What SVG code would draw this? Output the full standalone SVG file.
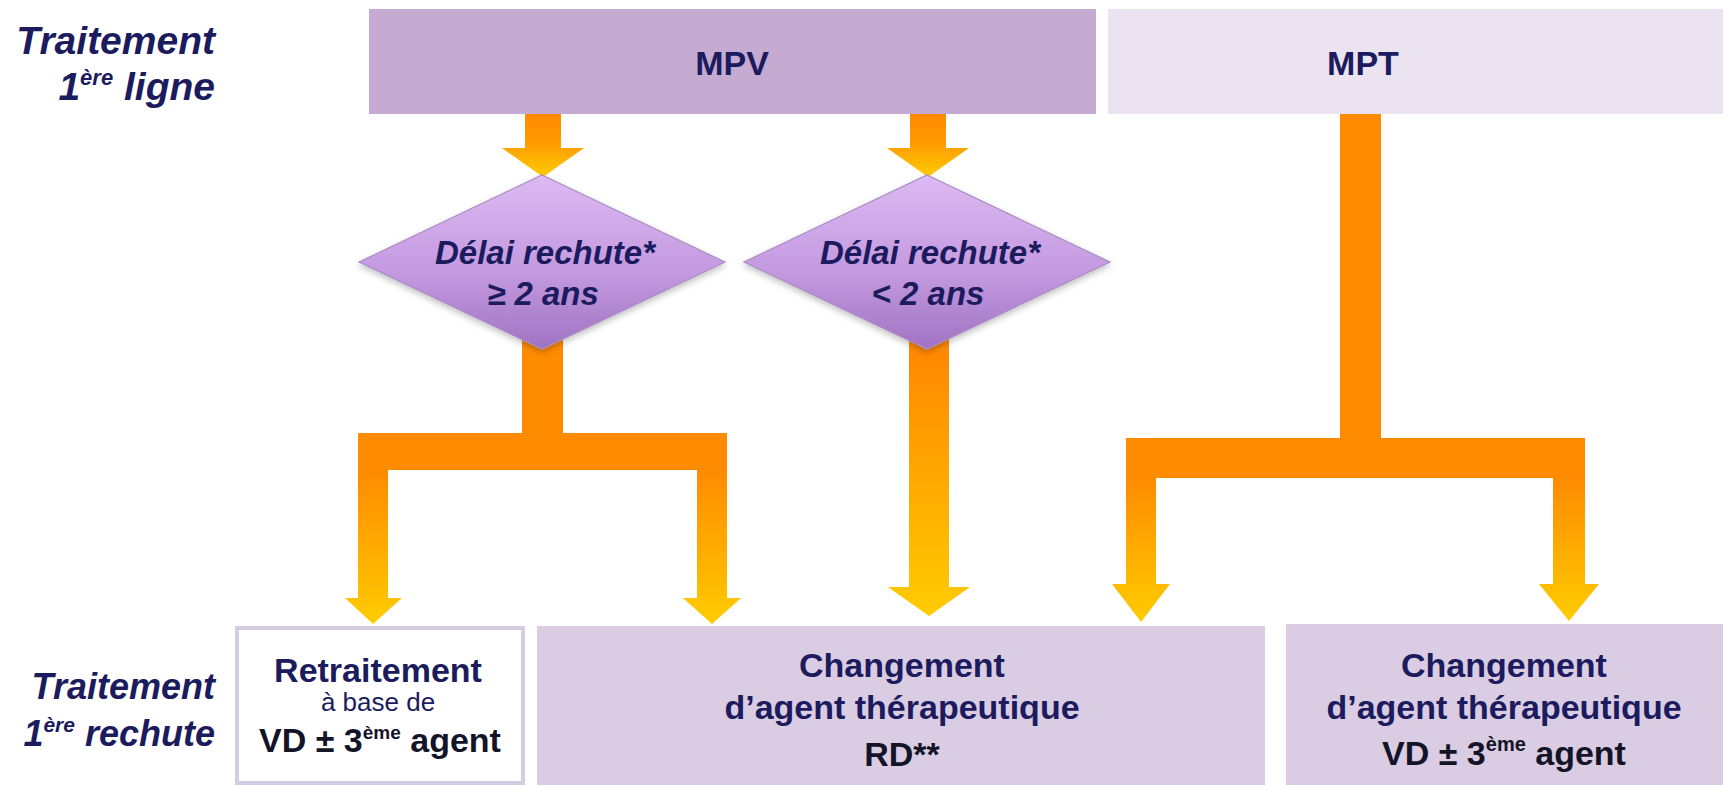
<svg xmlns="http://www.w3.org/2000/svg" width="1723" height="785" viewBox="0 0 1723 785">
<defs>
<style>
.t{font-family:"Liberation Sans",Arial,sans-serif;font-weight:bold;fill:#1b1b5e;}
.it{font-style:italic;}
.c{text-anchor:middle;}
.r{text-anchor:end;}
.dk{fill:#141428;}
.reg{font-weight:normal;}
</style>
<linearGradient id="gDia" x1="0" y1="0" x2="0" y2="1">
<stop offset="0" stop-color="#dcbaf2"/>
<stop offset="0.55" stop-color="#c49ae0"/>
<stop offset="1" stop-color="#a073c2"/>
</linearGradient>
<linearGradient id="gShort" x1="0" y1="0" x2="0" y2="1">
<stop offset="0" stop-color="#ff8a00"/>
<stop offset="0.45" stop-color="#ff9a00"/>
<stop offset="1" stop-color="#ffcc00"/>
</linearGradient>
<linearGradient id="gForkL" gradientUnits="userSpaceOnUse" x1="0" y1="475" x2="0" y2="624">
<stop offset="0" stop-color="#ff8c00"/>
<stop offset="1" stop-color="#ffcc00"/>
</linearGradient>
<linearGradient id="gLong" gradientUnits="userSpaceOnUse" x1="0" y1="360" x2="0" y2="616">
<stop offset="0" stop-color="#ff8a00"/>
<stop offset="1" stop-color="#ffcc00"/>
</linearGradient>
<linearGradient id="gForkR" gradientUnits="userSpaceOnUse" x1="0" y1="480" x2="0" y2="622">
<stop offset="0" stop-color="#ff8c00"/>
<stop offset="1" stop-color="#ffcc00"/>
</linearGradient>
<filter id="sh" x="-10%" y="-10%" width="120%" height="130%">
<feDropShadow dx="0" dy="3" stdDeviation="3" flood-color="#000" flood-opacity="0.25"/>
</filter>
</defs>
<rect width="1723" height="785" fill="#ffffff"/>

<g id="row-labels">
<text class="t it r" x="215" y="54" font-size="39">Traitement</text>
<text class="t it r" x="215" y="100" font-size="39">1<tspan font-size="22" dy="-15">ère</tspan><tspan dy="15"> ligne</tspan></text>
<text class="t it r" x="215" y="699" font-size="36">Traitement</text>
<text class="t it r" x="215" y="746" font-size="36">1<tspan font-size="21" dy="-14">ère</tspan><tspan dy="14"> rechute</tspan></text>
</g>

<g id="connectors">
<path fill="url(#gShort)" d="M525,114 H561 V148 H584 L543,177 L502,148 H525 Z"/>
<path fill="url(#gShort)" d="M910,114 H946 V148 H969 L928,177 L887,148 H910 Z"/>
<path fill="url(#gForkL)" d="M522,330 V433 H358 V598 H345 L373,624 L402,598 H388 V470 H697 V598 H683 L712,624 L741,598 H727 V433 H563 V330 Z"/>
<path fill="url(#gLong)" d="M909,330 H949 V587 H970 L929,616 L888,587 H909 Z"/>
<path fill="url(#gForkR)" d="M1340,114 H1381 V438 H1585 V584 H1599 L1569,621 L1539,584 H1553 V478 H1156 V584 H1170 L1141,622 L1112,584 H1126 V438 H1340 Z"/>
</g>

<g id="mpv">
<rect x="369" y="9" width="727" height="105" fill="#c5aad1"/>
<text class="t c" x="732" y="75" font-size="34">MPV</text>
</g>

<g id="mpt">
<rect x="1108" y="9" width="615" height="105" fill="#ebe4f0"/>
<text class="t c" x="1363" y="75" font-size="34">MPT</text>
</g>

<g id="diamond-ge2">
<polygon points="542,175 725,262 542,349 359,262" fill="url(#gDia)" stroke="#a98cc6" stroke-width="1.2" filter="url(#sh)"/>
<text class="t it c" x="545" y="264" font-size="33">Délai rechute*</text>
<text class="t it c" x="543" y="305" font-size="33">≥ 2 ans</text>
</g>

<g id="diamond-lt2">
<polygon points="927,175 1110,262 927,349 744,262" fill="url(#gDia)" stroke="#a98cc6" stroke-width="1.2" filter="url(#sh)"/>
<text class="t it c" x="930" y="264" font-size="33">Délai rechute*</text>
<text class="t it c" x="928" y="305" font-size="33">&lt; 2 ans</text>
</g>

<g id="retraitement">
<rect x="237" y="628" width="286" height="155" fill="#ffffff" stroke="#d6cce2" stroke-width="4"/>
<text class="t c" x="378" y="682" font-size="34">Retraitement</text>
<text class="t c reg" x="378" y="711" font-size="26">à base de</text>
<text class="t c dk" x="380" y="752" font-size="34">VD ± 3<tspan font-size="19" dy="-13">ème</tspan><tspan dy="13"> agent</tspan></text>
</g>

<g id="changement-rd">
<rect x="537" y="626" width="728" height="159" fill="#d9cce3"/>
<text class="t c" x="902" y="677" font-size="34">Changement</text>
<text class="t c" x="902" y="719" font-size="34">d’agent thérapeutique</text>
<text class="t c dk" x="902" y="766" font-size="34">RD**</text>
</g>

<g id="changement-vd">
<rect x="1286" y="624" width="437" height="161" fill="#d9cce3"/>
<text class="t c" x="1504" y="677" font-size="34">Changement</text>
<text class="t c" x="1504" y="719" font-size="34">d’agent thérapeutique</text>
<text class="t c dk" x="1504" y="765" font-size="34">VD ± 3<tspan font-size="20" dy="-14">ème</tspan><tspan dy="14"> agent</tspan></text>
</g>
</svg>
